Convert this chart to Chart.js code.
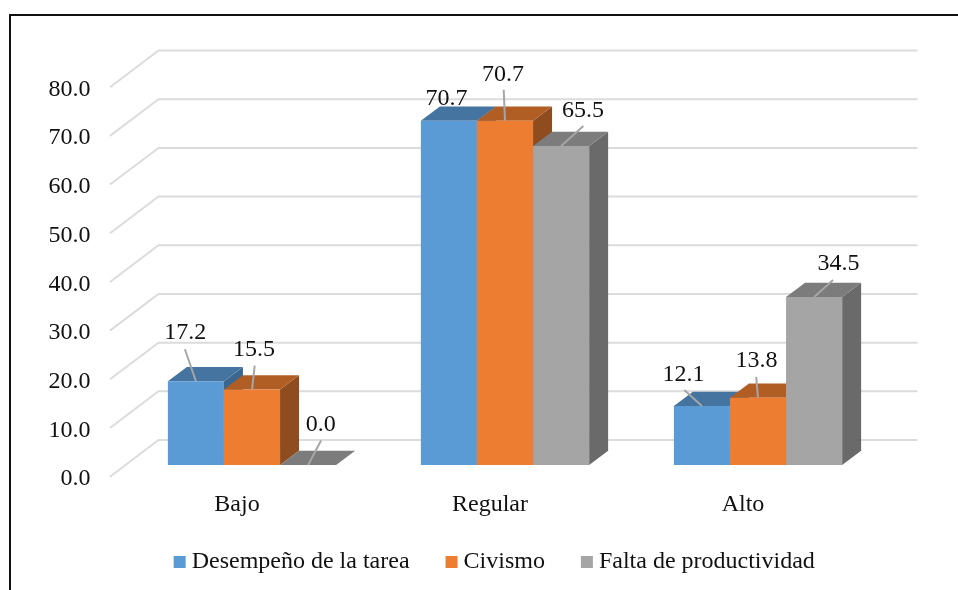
<!DOCTYPE html>
<html>
<head>
<meta charset="utf-8">
<script src="https://cdn.jsdelivr.net/npm/chart.js@4/dist/chart.umd.min.js"></script>
<style>
  html, body { margin: 0; background: #fff; }
  /* the original picture is cropped: only the top and left frame lines show */
  #wrap { position: absolute; left: 0; top: 0; width: 958px; height: 590px; overflow: hidden; }
  #frame { position: absolute; left: 9px; top: 14px; width: 960px; height: 600px; border: 2px solid #111; box-sizing: border-box; }
  canvas { position: absolute; left: 0; top: 0; }
</style>
</head>
<body>
<div id="wrap">
  <div id="frame"></div>
  <canvas id="chart" width="958" height="590"></canvas>
</div>
<script>
const categories = ['Bajo', 'Regular', 'Alto'];
const seriesNames = ['Desempeño de la tarea', 'Civismo', 'Falta de productividad'];
const desempeno = [17.2, 70.7, 12.1];
const civismo = [15.5, 70.7, 13.8];
const faltaProductividad = [0.0, 65.5, 34.5];
const seriesValues = [desempeno, civismo, faltaProductividad];

const frontColors = ['#5B9BD5', '#ED7D31', '#A5A5A5'];
const topColors = ['#44749F', '#B15E25', '#7C7C7C'];
const sideColors = ['#3B6690', '#8F4C1E', '#6A6A6A'];

// fake 3D: how far the bar depth and the chart walls shift from the bar plane
const BAR_DX = 19, BAR_DY = -14.3;
const WALL_FRONT = { dx: -15.5, dy: 11.7 };
const WALL_BACK = { dx: 33, dy: -25 };

// hand placed data labels, relative to the front top centre of each bar
// [label dx, label dy, leader start dx, leader start dy] per series, per category
const labelPlacement = [
  [[-10.7, -48.5, -11, -32], [-2.5, -22.2, null, null], [-18.3, -31.2, -17.6, -16]],
  [[2, -40, 2.7, -24], [-2, -46.2, -1.3, -31], [-1.5, -37.2, -1.8, -21]],
  [[12.7, -40.2, 13, -24.5], [22, -35.2, 22.3, -20], [24.5, -33.5, 19, -17]]
];

const SERIF = '"Liberation Serif", "Times New Roman", serif';
const FONT_SIZE = 24;

const walls3d = {
  id: 'walls3d',
  // the legend centres on the whole canvas, the original sits further right and higher
  afterLayout(chart) {
    chart.legend.left += 55;
    chart.legend.right += 55;
    chart.legend.top -= 26;
  },
  beforeDatasetsDraw(chart) {
    const { ctx, chartArea, scales } = chart;
    ctx.save();
    ctx.strokeStyle = '#DCDCDC';
    ctx.lineWidth = 2;
    scales.y.ticks.forEach(t => {
      const y = scales.y.getPixelForValue(t.value);
      ctx.beginPath();
      ctx.moveTo(chartArea.left + WALL_FRONT.dx, y + WALL_FRONT.dy);
      ctx.lineTo(chartArea.left + WALL_BACK.dx, y + WALL_BACK.dy);
      ctx.lineTo(chartArea.right + WALL_BACK.dx, y + WALL_BACK.dy);
      ctx.stroke();
    });
    // top and side faces, left to right so each bar overlaps the previous one
    categories.forEach((c, j) => {
      seriesValues.forEach((vals, i) => {
        const bar = chart.getDatasetMeta(i).data[j];
        const l = bar.x - bar.width / 2, r = bar.x + bar.width / 2;
        ctx.fillStyle = sideColors[i];
        ctx.beginPath();
        ctx.moveTo(r, bar.y);
        ctx.lineTo(r + BAR_DX, bar.y + BAR_DY);
        ctx.lineTo(r + BAR_DX, bar.base + BAR_DY);
        ctx.lineTo(r, bar.base);
        ctx.fill();
        ctx.fillStyle = topColors[i];
        ctx.beginPath();
        ctx.moveTo(l, bar.y);
        ctx.lineTo(l + BAR_DX, bar.y + BAR_DY);
        ctx.lineTo(r + BAR_DX, bar.y + BAR_DY);
        ctx.lineTo(r, bar.y);
        ctx.fill();
      });
    });
    ctx.restore();
  },
  afterDatasetsDraw(chart) {
    const { ctx } = chart;
    ctx.save();
    ctx.font = FONT_SIZE + 'px ' + SERIF;
    ctx.textAlign = 'center';
    ctx.textBaseline = 'middle';
    seriesValues.forEach((vals, i) => {
      vals.forEach((v, j) => {
        const bar = chart.getDatasetMeta(i).data[j];
        const [lx, ly, sx, sy] = labelPlacement[i][j];
        if (sx !== null) {
          ctx.strokeStyle = '#A6A6A6';
          ctx.lineWidth = 2;
          ctx.beginPath();
          ctx.moveTo(bar.x + sx, bar.y + sy);
          ctx.lineTo(bar.x, bar.y);
          ctx.stroke();
        }
        ctx.fillStyle = '#111';
        ctx.fillText(v.toFixed(1), bar.x + lx, bar.y + ly);
      });
    });
    ctx.restore();
  }
};

new Chart(document.getElementById('chart'), {
  type: 'bar',
  data: {
    labels: categories,
    datasets: seriesNames.map((name, i) => ({
      label: name,
      data: seriesValues[i],
      backgroundColor: frontColors[i],
      borderWidth: 0,
      categoryPercentage: 0.665,
      barPercentage: 1
    }))
  },
  options: {
    responsive: false,
    animation: false,
    // negative bottom gives the x axis more room so its labels are not clipped
    layout: { padding: { top: 75.5, right: 73.5, bottom: -20, left: 0 } },
    plugins: {
      tooltip: { enabled: false },
      legend: {
        position: 'bottom',
        labels: {
          font: { family: SERIF, size: FONT_SIZE },
          color: '#111',
          usePointStyle: true,
          pointStyle: 'rect',
          boxHeight: 12,
          // almost no box width so the text sits closer to the square than the default gap
          boxWidth: 0.01,
          padding: 42
        }
      }
    },
    scales: {
      x: {
        grid: { display: false },
        border: { display: false },
        afterFit: s => { s.height = 69; },
        ticks: {
          font: { family: SERIF, size: FONT_SIZE },
          color: '#111',
          padding: 17,
          labelOffset: -15,
          maxRotation: 0
        }
      },
      y: {
        min: 0,
        max: 80,
        grid: { display: false },
        border: { display: false },
        afterFit: s => { s.width = 125.5; },
        ticks: {
          font: { family: SERIF, size: FONT_SIZE },
          color: '#111',
          stepSize: 10,
          padding: 27,
          labelOffset: 14,
          autoSkip: false,
          callback: v => v.toFixed(1)
        }
      }
    }
  },
  plugins: [walls3d]
});
</script>
</body>
</html>
